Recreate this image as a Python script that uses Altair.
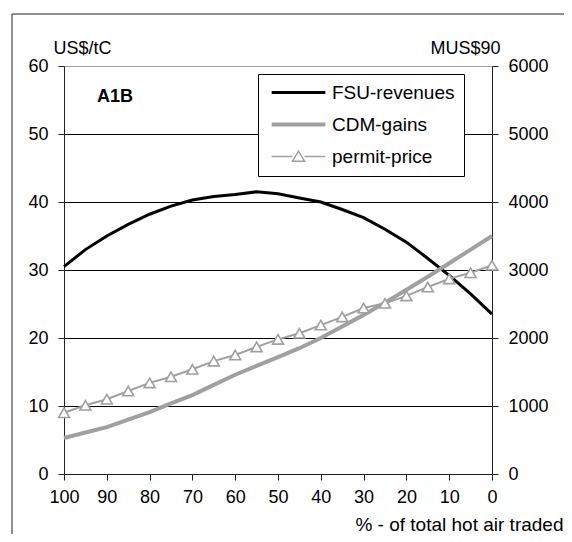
import altair as alt
import pandas as pd

# ---- data ----
pct = [100, 95, 90, 85, 80, 75, 70, 65, 60, 55, 50, 45, 40, 35, 30, 25, 20, 15, 10, 5, 0]
fsu_revenues = [3050, 3300, 3500, 3670, 3820, 3940, 4030, 4080, 4110, 4150, 4120,
                4060, 4000, 3890, 3770, 3600, 3410, 3170, 2920, 2650, 2350]
cdm_gains = [530, 610, 690, 800, 910, 1040, 1160, 1310, 1460, 1590, 1720,
             1850, 2000, 2170, 2340, 2520, 2710, 2900, 3100, 3300, 3500]
permit_price = [9.0, 10.1, 11.0, 12.2, 13.4, 14.3, 15.4, 16.6, 17.5, 18.7, 19.8,
                20.7, 21.9, 23.1, 24.4, 25.1, 26.2, 27.5, 28.7, 29.6, 30.7]

series_names = ["FSU-revenues", "CDM-gains", "permit-price"]
series_colors = ["#000000", "#a0a0a0", "#a0a0a0"]
x_ticks = [100, 90, 80, 70, 60, 50, 40, 30, 20, 10, 0]
left_ticks = [0, 10, 20, 30, 40, 50, 60]
right_ticks = [0, 1000, 2000, 3000, 4000, 5000, 6000]
panel_label = ["A1B"]
panel_label_pos = [92.3, 55.4]

FONT = "Liberation Sans"
AX = "#222222"

fsu_df = pd.DataFrame({"pct": pct, "value": fsu_revenues, "series": "FSU-revenues"})
cdm_df = pd.DataFrame({"pct": pct, "value": cdm_gains, "series": "CDM-gains"})
price_df = pd.DataFrame({"pct": pct, "value": permit_price, "series": "permit-price"})
label_df = pd.DataFrame({"pct": [panel_label_pos[0]], "value": [panel_label_pos[1]], "text": panel_label})

x_enc = alt.X(
    "pct:Q",
    scale=alt.Scale(domain=[100, 0], nice=False),
    axis=alt.Axis(
        values=x_ticks, title="% - of total hot air traded", grid=False,
        tickSize=6, labelPadding=8, labelFlush=False, labelOverlap=False,
        labelFontSize=18, labelColor="black", labelFont=FONT,
        titleFontSize=19, titleFontWeight="normal", titleColor="black", titleFont=FONT,
        titleAlign="right", titleX=499, titleY=56, titleBaseline="alphabetic",
        domainColor=AX, tickColor=AX,
    ),
)

legend = alt.Legend(
    title=None, orient="none", legendX=194, legendY=8, direction="vertical",
    symbolType=alt.ExprRef(
        expr="datum.value == 'permit-price' ? 'M-4,0H-0.9M0.9,0H4M0,-0.8L0.9,0.7L-0.9,0.7Z' : 'M-4,0H4'"
    ),
    symbolSize=180,
    symbolOffset=22,
    symbolStrokeWidth=alt.ExprRef(
        expr="datum.value == 'FSU-revenues' ? 3 : (datum.value == 'CDM-gains' ? 4 : 1.5)"
    ),
    symbolFillColor="white",
    labelFontSize=19, labelFont=FONT, labelColor="black", labelOffset=24,
    strokeColor="black", fillColor="white", padding=9, rowPadding=12,
)

color_enc = alt.Color(
    "series:N",
    scale=alt.Scale(domain=series_names, range=series_colors),
    legend=legend,
)

y_left = alt.Y(
    "value:Q",
    scale=alt.Scale(domain=[0, 60], nice=False),
    axis=alt.Axis(
        values=left_ticks, title="US$/tC", titleAngle=0, titleAlign="left",
        titleX=-11, titleY=-13, titleBaseline="alphabetic",
        titleFontSize=18, titleFontWeight="normal", titleColor="black", titleFont=FONT,
        labelFontSize=18, labelColor="black", labelFont=FONT, labelPadding=10,
        tickSize=6, domainColor=AX, tickColor=AX,
        grid=True, gridWidth=1,
        gridColor={"condition": {"test": "datum.value == 60", "value": "#a0a0a0"}, "value": "#000000"},
    ),
)

y_right = alt.Y(
    "value:Q",
    scale=alt.Scale(domain=[0, 6000], nice=False),
    axis=alt.Axis(
        orient="right", values=right_ticks, format="d", title="MUS$90", titleAngle=0, titleAlign="right",
        titleX=8, titleY=-13, titleBaseline="alphabetic",
        titleFontSize=18, titleFontWeight="normal", titleColor="black", titleFont=FONT,
        labelFontSize=18, labelColor="black", labelFont=FONT, labelPadding=10,
        tickSize=6, domainColor=AX, tickColor=AX, grid=False,
    ),
)

price_line = alt.Chart(price_df).mark_line(strokeWidth=2).encode(x=x_enc, y=y_left, color=color_enc)
price_pts = alt.Chart(price_df).mark_point(
    shape="triangle-up", size=120, filled=True, fill="white", stroke="#a0a0a0", strokeWidth=1.6, opacity=1
).encode(x=x_enc, y=y_left)
label = alt.Chart(label_df).mark_text(
    align="left", baseline="middle", fontSize=18, fontWeight="bold", font=FONT, color="black"
).encode(x=x_enc, y=y_left, text="text:N")

left = alt.layer(price_line, price_pts, label)

fsu_line = alt.Chart(fsu_df).mark_line(strokeWidth=3).encode(x=x_enc, y=y_right, color=color_enc)
cdm_line = alt.Chart(cdm_df).mark_line(strokeWidth=4).encode(x=x_enc, y=y_right, color=color_enc)
right = alt.layer(fsu_line, cdm_line)

frame = alt.Chart(pd.DataFrame({"k": [0]})).mark_rect(
    fill="transparent", stroke=AX, strokeWidth=1, clip=False
).encode(x=alt.value(-52), y=alt.value(-52), x2=alt.value(700), y2=alt.value(700))

chart = alt.layer(frame, right, left).resolve_scale(y="independent").properties(
    width=428, height=408,
    padding={"left": 56, "top": 58, "right": 72, "bottom": 60},
    autosize=alt.AutoSizeParams(type="none"),
).configure(font=FONT).configure_view(stroke="#a0a0a0", strokeWidth=1)

chart.save("out.html", embed_options={"renderer": "svg", "actions": False})
